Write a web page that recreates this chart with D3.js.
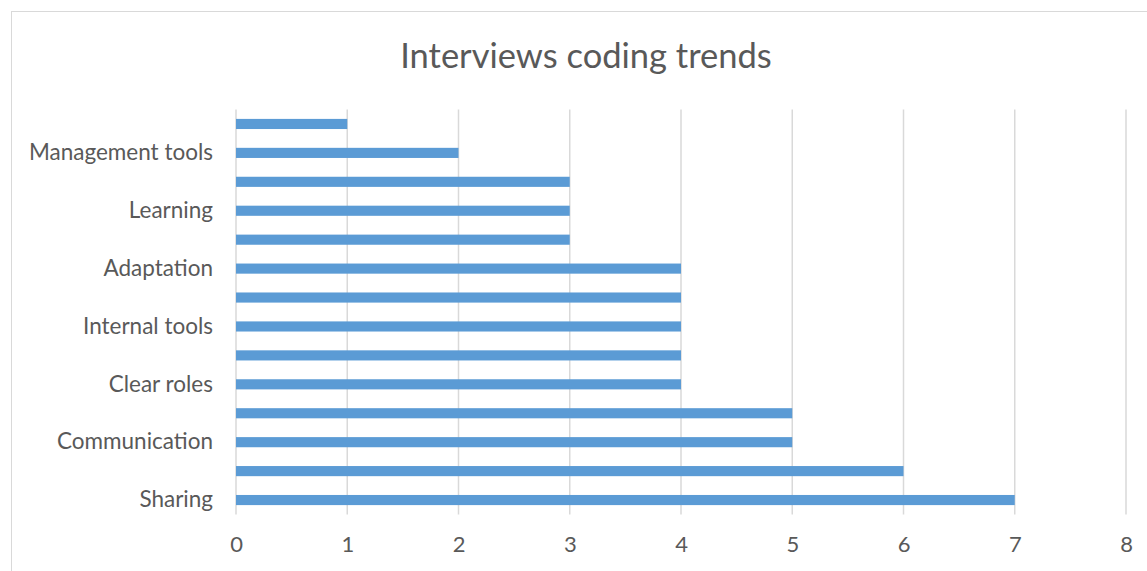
<!DOCTYPE html>
<html><head><meta charset="utf-8">
<script src="https://cdn.jsdelivr.net/npm/d3@7"></script>
<style>body{margin:0;background:#fff}svg{display:block}</style>
</head><body>
<script>
// categories bottom to top; "" = label hidden by the axis
const categories = ["Sharing","","Communication","","Clear roles","","Internal tools","","Adaptation","","Learning","","Management tools",""];
const values = [7,6,5,5,4,4,4,4,4,3,3,3,2,1];
const xTicks = [0,1,2,3,4,5,6,7,8];
const title = "Interviews coding trends";

const W=1147,H=571;
const svg=d3.select("body").append("svg").attr("width",W).attr("height",H);
svg.append("rect").attr("x",11.5).attr("y",11.5).attr("width",1140).attr("height",570).attr("fill","#fff").attr("stroke","#d9d9d9").attr("stroke-width",1);

const m={l:236,r:1126,t:109.5,b:514.5};
const x=d3.scaleLinear().domain([0,8]).range([m.l,m.r]);
const idx=d3.range(categories.length);
const y=d3.scaleBand().domain(idx).range([m.b,m.t]).paddingInner(0.65).paddingOuter(0.325);

const font="Lato, 'Open Sans', sans-serif";
svg.append("g").selectAll("line").data(xTicks).join("line")
 .attr("x1",d=>x(d)).attr("x2",d=>x(d)).attr("y1",m.t).attr("y2",m.b)
 .attr("stroke","#d9d9d9").attr("stroke-width",1.5);

svg.append("g").selectAll("rect").data(idx).join("rect")
 .attr("x",x(0)).attr("y",i=>y(i)).attr("height",y.bandwidth())
 .attr("width",i=>x(values[i])-x(0)).attr("fill","#5b9bd5");

const xa=svg.append("g").attr("transform",`translate(0,${m.b})`).call(d3.axisBottom(x).tickValues(xTicks).tickSize(0).tickPadding(22).tickFormat(d3.format("d")));
xa.select(".domain").remove();
xa.selectAll("text").attr("font-family",font).attr("font-size",22).attr("fill","#595959");

const ya=svg.append("g").attr("transform",`translate(${m.l},0)`).call(d3.axisLeft(y).tickSize(0).tickPadding(23).tickFormat(i=>categories[i]));
ya.select(".domain").remove();
ya.selectAll("text").attr("font-family",font).attr("font-size",22.5).attr("fill","#595959");

svg.append("text").attr("x",586).attr("y",68).attr("text-anchor","middle")
 .attr("font-family",font).attr("font-size",34.5).attr("fill","#595959").text(title);
</script>
</body></html>
